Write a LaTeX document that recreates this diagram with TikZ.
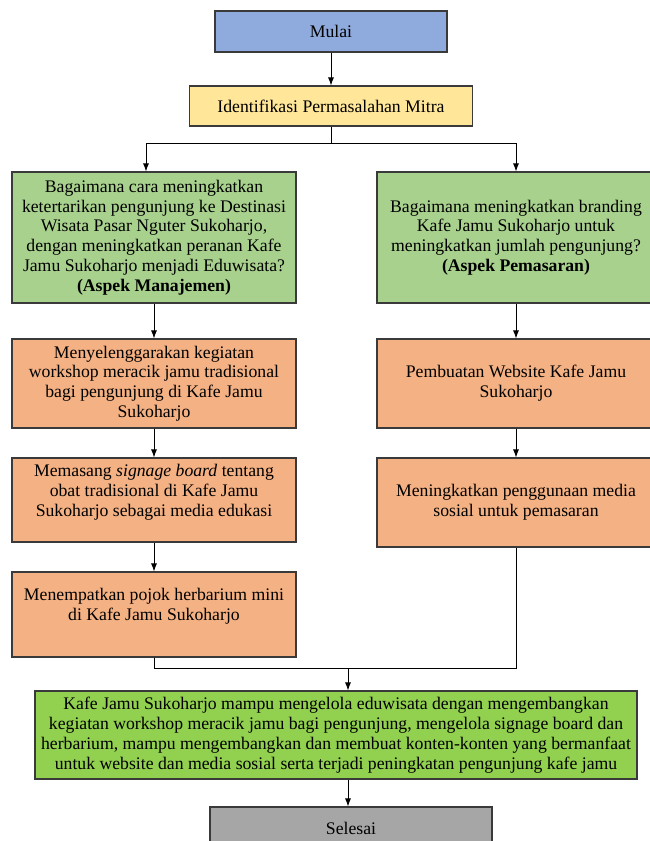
\documentclass[tikz,border=0pt]{standalone}
\usepackage{fontspec}
\setmainfont{Liberation Serif}
\usetikzlibrary{positioning, arrows.meta}

\definecolor{mulaiblue}{HTML}{8FAADC}
\definecolor{identyellow}{HTML}{FFE699}
\definecolor{askgreen}{HTML}{A9D18E}
\definecolor{actorange}{HTML}{F4B183}
\definecolor{endgreen}{HTML}{92D050}
\definecolor{stopgrey}{HTML}{A6A6A6}
\definecolor{edgegrey}{HTML}{3A3A3A}

\tikzset{
	box/.style = {draw = edgegrey, line width = 1.1pt, align = center, inner sep = 0pt,
		font = \fontsize{17.7}{19.8}\selectfont},
	colbox/.style = {box, minimum width = 284pt},
	rightbox/.style = {box, minimum width = 278pt},
}

\begin{document}
\begin{tikzpicture}[> = {Latex[length = 8pt, width = 6pt]}, x = 1pt, y = -1pt, line width = 0.9pt]

	\useasboundingbox (0, 0) rectangle (649, 841);

	% start and problem identification
	\node [box, fill = mulaiblue, minimum width = 232pt, minimum height = 41pt] (mulai) at (331, 31.5) {Mulai};
	\node [box, fill = identyellow, minimum width = 283pt, minimum height = 40pt] (ident) at (331, 106) {Identifikasi Permasalahan Mitra};

	% management aspect
	\begin{scope}[every node/.style = {colbox}]

		\node [fill = askgreen, minimum height = 131pt] (askL) at (154, 237.5) {Bagaimana cara meningkatkan\\ ketertarikan pengunjung ke Destinasi\\ Wisata Pasar Nguter Sukoharjo,\\ dengan meningkatkan peranan Kafe\\ Jamu Sukoharjo menjadi Eduwisata?\\ \textbf{(Aspek Manajemen)}};
		\node [fill = actorange, minimum height = 89pt] (workshop) at (154, 383.5) {Menyelenggarakan kegiatan\\ workshop meracik jamu tradisional\\ bagi pengunjung di Kafe Jamu\\ Sukoharjo};
		\node [fill = actorange, minimum height = 84pt] (signage) at (154, 500) {Memasang \textit{signage board} tentang\\ obat tradisional di Kafe Jamu\\ Sukoharjo sebagai media edukasi\\ \mbox{}};
		\node [fill = actorange, minimum height = 85pt] (herbarium) at (154, 614.5) {Menempatkan pojok herbarium mini\\ di Kafe Jamu Sukoharjo\\ \mbox{}};

	\end{scope}

	% marketing aspect
	\begin{scope}[every node/.style = {rightbox}]

		\node [fill = askgreen, minimum height = 131pt] (askR) at (516, 237.5) {Bagaimana meningkatkan branding\\ Kafe Jamu Sukoharjo untuk\\ meningkatkan jumlah pengunjung?\\ \textbf{(Aspek Pemasaran)}};
		\node [fill = actorange, minimum height = 89pt] (website) at (516, 383.5) {Pembuatan Website Kafe Jamu\\ Sukoharjo};
		\node [fill = actorange, minimum height = 89pt] (medsos) at (516, 502.5) {Meningkatkan penggunaan media\\ sosial untuk pemasaran};

	\end{scope}

	% outcome and end
	\node [box, fill = endgreen, minimum width = 602pt, minimum height = 88pt] (hasil) at (336, 735) {Kafe Jamu Sukoharjo mampu mengelola eduwisata dengan mengembangkan\\ kegiatan workshop meracik jamu bagi pengunjung, mengelola signage board dan\\ herbarium, mampu mengembangkan dan membuat konten-konten yang bermanfaat\\ untuk website dan media sosial serta terjadi peningkatan pengunjung kafe jamu};
	\node [box, fill = stopgrey, minimum width = 282pt, minimum height = 42pt] (selesai) at (351, 828) {Selesai};

	\coordinate (split) at (331, 143);
	\coordinate (join) at (348, 668);

	\draw [->] (mulai) -- (ident);
	\draw (ident) -- (split);
	\draw [->] (split) -| ([xshift = -8pt] askL.north);
	\draw [->] (split) -| (askR.north);

	\draw [->] (askL) -- (workshop);
	\draw [->] (workshop) -- (signage);
	\draw [->] (signage) -- (herbarium);

	\draw [->] (askR) -- (website);
	\draw [->] (website) -- (medsos);

	\draw (herbarium.south) -- (herbarium.south |- join) -- (medsos.south |- join) -- (medsos.south);
	\draw [->] (join) -- (join |- hasil.north);
	\draw [->] (hasil.south -| join) -- (selesai.north -| join);

\end{tikzpicture}
\end{document}
